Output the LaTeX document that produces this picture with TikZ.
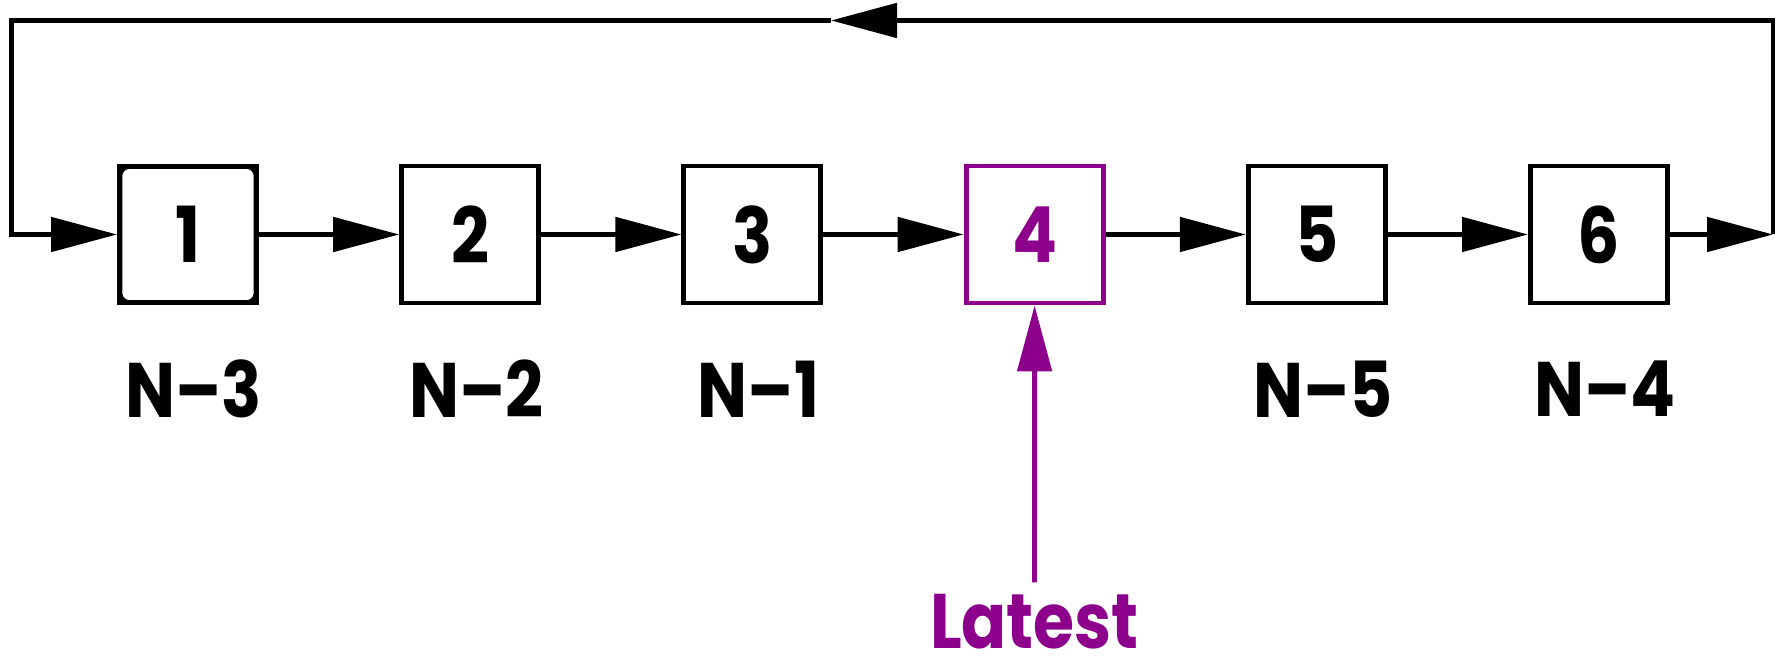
\documentclass[tikz,border=0pt]{standalone}
\usepackage{fontspec}
\setmainfont{Poppins}[FakeStretch=0.86]
\usepackage{tikz}
\usetikzlibrary{calc,arrows.meta,positioning}

\definecolor{latestcol}{RGB}{140,0,140}

\begin{document}
\begin{tikzpicture}[x=1cm,y=1cm,line width=1.4pt,
  box/.style={draw, minimum size=1.37cm, inner sep=0pt,
    font=\fontsize{22}{22}\selectfont\bfseries},
  lbl/.style={font=\fontsize{22}{22}\selectfont\bfseries},
  link/.style={-{Triangle[length=6.6mm,width=3.4mm]}}]
  \useasboundingbox (0,0) rectangle (17.85,6.62);

  %% The ring of slots
  \foreach \i/\c in {1/black,2/black,3/black,4/latestcol,5/black,6/black}
  {
    \node[box,draw=\c,text=\c] (B\i) at ({1.88+2.822*(\i-1)},4.275) {\i};
  }
  % slot 1 gets an extra rounded frame
  \draw[line width=1pt,rounded corners=0.9mm]
    ($(B1.south west)+(0.035,0.035)$) rectangle ($(B1.north east)-(0.035,0.035)$);

  %% Labels under the slots
  \foreach \i/\lab in {1/N--3,2/N--2,3/N--1,5/N--5,6/N--4}
  {
    \node[lbl] (N\i) at ($(B\i)+(0.06,-1.545)$) {\lab};
  }

  %% Arrows between slots
  \foreach \i/\j in {1/2,2/3,3/4,4/5,5/6}
  {
    \draw[link] (B\i) -- (B\j);
  }

  %% Wrap around from the last slot to the first
  \coordinate (RC) at (17.73,4.275);
  \coordinate (TM) at (8.31,6.415);
  \coordinate (LC) at (0.114,4.275);
  \draw[link] (B6) -- (RC);
  \draw[link] (RC) |- (TM);
  \draw[link] (TM) -| (LC) -- (B1);

  %% Pointer to the newest entry
  \node[lbl,text=latestcol,inner sep=0pt,anchor=base] (LT) at (10.345,0.13) {Latest};
  \draw[link,latestcol] ([yshift=1mm]LT.north) -- (B4);
\end{tikzpicture}
\end{document}
